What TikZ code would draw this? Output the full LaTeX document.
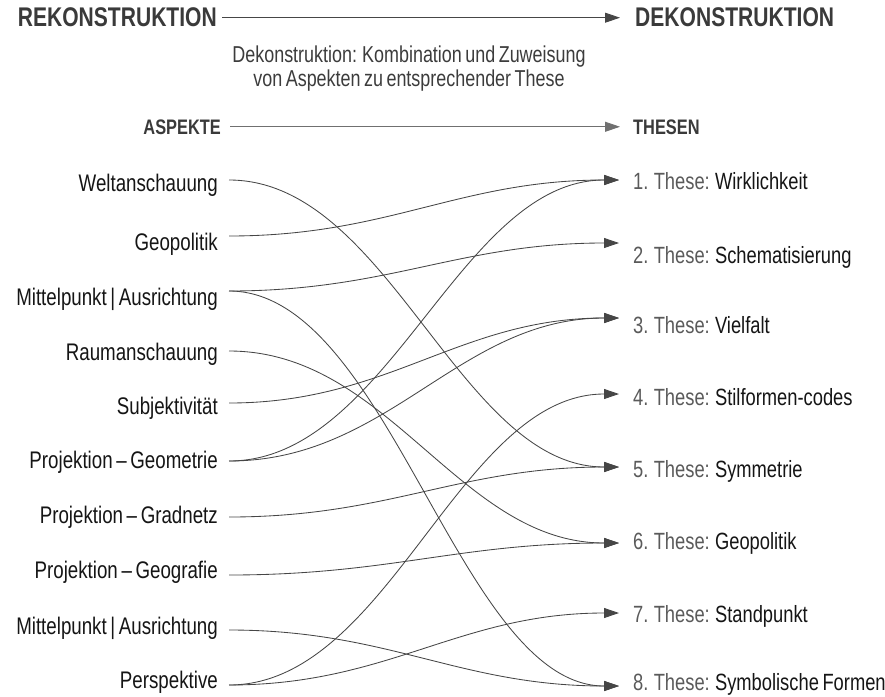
\documentclass[tikz,border=0pt]{standalone}
\usepackage{fontspec}
\setmainfont{Liberation Sans}[FakeStretch=0.78, WordSpace=0.7]
\usetikzlibrary{arrows.meta}
\definecolor{headc}{HTML}{3A3A3A}
\definecolor{labc}{HTML}{151515}
\definecolor{numc}{HTML}{5A5A5A}
\definecolor{subc}{HTML}{3C3C3C}
\definecolor{linec}{HTML}{464646}
\definecolor{lightline}{HTML}{707070}
\begin{document}
\begin{tikzpicture}[x=1pt,y=-1pt,
  head/.style={font=\fontsize{27}{31}\selectfont\bfseries, text=headc, inner sep=0pt},
  colhead/.style={font=\fontsize{21}{25}\selectfont\bfseries, text=headc, inner sep=0pt},
  subtxt/.style={font=\fontsize{23}{27}\selectfont, text=subc, inner sep=0pt, anchor=base},
  lab/.style={font=\fontsize{24}{28}\selectfont, text=labc, inner sep=0pt, anchor=base east},
  thes/.style={font=\fontsize{23.5}{28}\selectfont, text=labc, inner sep=0pt, anchor=base west},
  tip/.style={-{Triangle[length=15pt,width=10pt]}},
  link/.style={draw=linec, line width=0.85pt, tip, out=0, in=180, distance=160pt},
  hline/.style={draw=linec, line width=0.85pt, tip}
]
\useasboundingbox (0,0) rectangle (885,696);

% headings
\node[head, anchor=base east] (rek) at (217,27) {REKONSTRUKTION};
\node[head, anchor=base west] (dek) at (635,27) {DEKONSTRUKTION};
\draw[hline, shorten <=5pt, shorten >=15pt] (rek.east) -- (dek.west);

\node[subtxt] (sub1) at (409,62) {Dekonstruktion: Kombination und Zuweisung};
\node[subtxt] (sub2) at (409,86) {von Aspekten zu entsprechender These};

\node[colhead, anchor=base east] (asp) at (221,134) {ASPEKTE};
\node[colhead, anchor=base west] (the) at (633,134) {THESEN};
\draw[hline, draw=lightline, shorten <=9pt, shorten >=13pt] (asp.east) -- (the.west);

% left labels
\node[lab] (a1) at (218,191) {Weltanschauung};
\node[lab] (a2) at (218,250) {Geopolitik};
\node[lab] (a3) at (218,305) {Mittelpunkt | Ausrichtung};
\node[lab] (a4) at (218,360) {Raumanschauung};
\node[lab] (a5) at (218,414) {Subjektivität};
\node[lab] (a6) at (218,468) {Projektion – Geometrie};
\node[lab] (a7) at (218,523) {Projektion – Gradnetz};
\node[lab] (a8) at (218,578) {Projektion – Geografie};
\node[lab] (a9) at (218,634) {Mittelpunkt | Ausrichtung};
\node[lab] (a10) at (218,688) {Perspektive};

% right labels
\node[thes] (t1) at (633,189) {{\color{numc}1. These:} Wirklichkeit};
\node[thes] (t2) at (633,263) {{\color{numc}2. These:} Schematisierung};
\node[thes] (t3) at (633,333) {{\color{numc}3. These:} Vielfalt};
\node[thes] (t4) at (633,405) {{\color{numc}4. These:} Stilformen-codes};
\node[thes] (t5) at (633,477) {{\color{numc}5. These:} Symmetrie};
\node[thes] (t6) at (633,549) {{\color{numc}6. These:} Geopolitik};
\node[thes] (t7) at (633,622) {{\color{numc}7. These:} Standpunkt};
\node[thes] (t8) at (633,690) {{\color{numc}8. These:} Symbolische Formen};

% connector ends
\coordinate (l1) at (229,180);
\coordinate (l2) at (229,236);
\coordinate (l3) at (229,291);
\coordinate (l4) at (229,351);
\coordinate (l5) at (229,403);
\coordinate (l6) at (229,461);
\coordinate (l7) at (229,517);
\coordinate (l8) at (229,575);
\coordinate (l9) at (229,630);
\coordinate (l10) at (229,685);

\coordinate (r1) at (619,180);
\coordinate (r2) at (619,243);
\coordinate (r3) at (619,318);
\coordinate (r4) at (619,394);
\coordinate (r5) at (619,467);
\coordinate (r6) at (619,543);
\coordinate (r7) at (619,613);
\coordinate (r8) at (619,686);

% connectors
\draw[link] (l1) to (r5);
\draw[link] (l2) to (r1);
\draw[link] (l3) to (r2);
\draw[link] (l3) to (r8);
\draw[link] (l4) to (r6);
\draw[link] (l5) to (r3);
\draw[link] (l6) to (r1);
\draw[link] (l6) to (r3);
\draw[link] (l7) to (r5);
\draw[link] (l8) to (r6);
\draw[link] (l9) to (r8);
\draw[link] (l10) to (r4);
\draw[link] (l10) to (r7);
\end{tikzpicture}
\end{document}
